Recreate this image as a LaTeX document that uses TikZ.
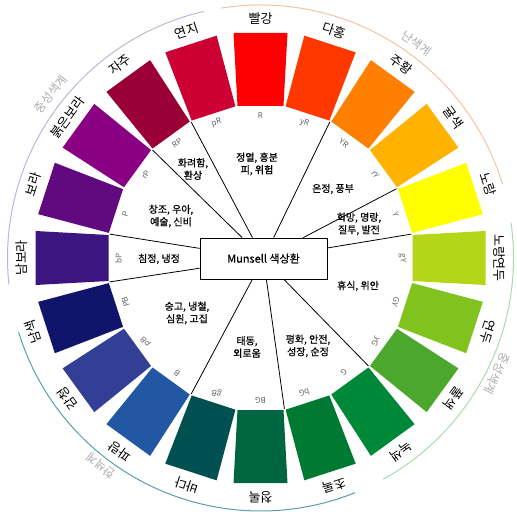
\documentclass[tikz,border=0pt]{standalone}
\usepackage{fontspec}
\setmainfont{Noto Sans CJK KR}
\newfontfamily\semibf[FakeBold=0.6]{Noto Sans CJK KR}
\usetikzlibrary{calc}
\definecolor{cR}{HTML}{FF0000}
\definecolor{cyR}{HTML}{FF3800}
\definecolor{cYR}{HTML}{FF8000}
\definecolor{crY}{HTML}{FFB200}
\definecolor{cY}{HTML}{FFFF00}
\definecolor{cgY}{HTML}{B4D616}
\definecolor{cGY}{HTML}{80C21E}
\definecolor{cyG}{HTML}{4BA82D}
\definecolor{cG}{HTML}{008839}
\definecolor{cbG}{HTML}{007A32}
\definecolor{cBG}{HTML}{006642}
\definecolor{cgB}{HTML}{005052}
\definecolor{cB}{HTML}{2257A3}
\definecolor{cpB}{HTML}{323F94}
\definecolor{cPB}{HTML}{10146B}
\definecolor{cbP}{HTML}{3C1581}
\definecolor{cP}{HTML}{610A80}
\definecolor{crP}{HTML}{8A0082}
\definecolor{cRP}{HTML}{9A0036}
\definecolor{cpR}{HTML}{CC0033}
\definecolor{abgray}{HTML}{646464}
\definecolor{arcgray}{HTML}{ABABAB}
\definecolor{warmarc}{HTML}{F7C2A2}
\definecolor{neuarcA}{HTML}{B8B8D6}
\definecolor{coolarc}{HTML}{5A9EAE}
\definecolor{neuarcB}{HTML}{A6DCB0}
\begin{document}
\begin{tikzpicture}[x=1pt,y=1pt,
  outlab/.style={font=\fontsize{13}{14}\selectfont, text=black, inner sep=0pt},
  ablab/.style={font=\fontsize{8}{8.5}\selectfont, text=abgray, inner sep=0pt},
  sect/.style={font=\semibf\fontsize{10}{12.5}\selectfont, align=center, inner sep=0pt, text=black},
  spoke/.style={draw=black, line width=0.8pt},
  arclab/.style={font=\fontsize{12}{13}\selectfont, text=arcgray, inner sep=0pt},
  arcline/.style={line width=1pt},
  centerbox/.style={draw=black, line width=0.8pt, fill=white, minimum width=127pt, minimum height=41pt, inner sep=0pt, font=\semibf\fontsize{11}{12}\selectfont}
  ]
\useasboundingbox (0,0) rectangle (517,515);
\coordinate (O) at (260.5,257);
% colour blocks, names and codes
\foreach \a/\col/\nm/\ab [count=\i] in {90/cR/빨강/R, 72/cyR/다홍/yR, 54/cYR/주황/YR, 36/crY/귤색/rY, 18/cY/노랑/Y, 0/cgY/노랑연두/gY, -18/cGY/연두/GY, -36/cyG/풀색/yG, -54/cG/녹색/G, -72/cbG/초록/bG, -90/cBG/청록/BG, -108/cgB/바다/gB, -126/cB/파랑/B, -144/cpB/감청/pB, -162/cPB/남색/PB, -180/cbP/남보라/bP, -198/cP/보라/P, -216/crP/붉은보라/rP, -234/cRP/자주/RP, -252/cpR/연지/pR}
{
  \begin{scope}[shift={(O)},rotate=\a-90]
    \fill[\col] (-23,152) -- (23,152) -- (27,225) -- (-27,225) -- cycle;
  \end{scope}
  \node[outlab, rotate=\a-90] (n\i) at ($(O)+(\a:239pt)$) {\nm};
  \node[ablab, rotate=\a-90] (ab\i) at ($(O)+(\a:142pt)$) {\ab};
}
% outer arcs
\draw[arcline, warmarc] ($(O)+(99:253pt)$) arc[start angle=99, end angle=17, radius=253pt];
\draw[arcline, neuarcA] ($(O)+(103:253pt)$) arc[start angle=103, end angle=186, radius=253pt];
\draw[arcline, coolarc] ($(O)+(197:253pt)$) arc[start angle=197, end angle=292, radius=253pt];
\draw[arcline, neuarcB] ($(O)+(299:253pt)$) arc[start angle=299, end angle=368, radius=253pt];
\node[arclab, rotate=-36] (w1) at ($(O)+(54:265pt)$) {난색계};
\node[arclab, rotate=52] (w2) at ($(O)+(142:266pt)$) {중성색계};
\node[arclab, rotate=142.5] (w3) at ($(O)+(232.5:262pt)$) {한색계};
\node[arclab, rotate=-116] (w4) at ($(O)+(-26:263pt)$) {중성색계};
% centre box
\node[centerbox] (box) at (263.5,256.5) {Munsell 색상환};
% spokes
\foreach \b [count=\j] in {117,135,63,27,9,-45,-81,-117,-171,171}
{
  \coordinate (s\j) at ($(O)+(\b:152.7pt)$);
  \draw[spoke] (s\j) -- (box);
}
% sector texts
\node[sect] (t1) at (193,346) {화려함,\\환상};
\node[sect] (t2) at (257,351) {정열, 흥분\\피, 위험};
\node[sect] (t3) at (333,326) {온정, 풍부};
\node[sect] (t4) at (359,291) {희망, 명랑,\\질투, 발전};
\node[sect] (t5) at (358,229) {휴식, 위안};
\node[sect] (t6) at (308,169) {평화, 안전,\\성장, 순정};
\node[sect] (t7) at (247,168) {태동,\\외로움};
\node[sect] (t8) at (187,202) {숭고, 냉철,\\심원, 고집};
\node[sect] (t9) at (159,256) {침정, 냉정};
\node[sect] (t10) at (171,299) {창조, 우아,\\예술, 신비};
\end{tikzpicture}
\end{document}
